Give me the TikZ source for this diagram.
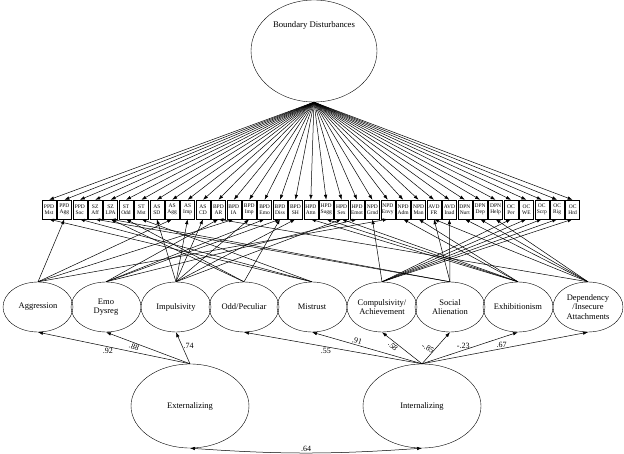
\documentclass[tikz,border=0pt]{standalone}
\usepackage{fontspec}
\setmainfont{Liberation Serif}
\usetikzlibrary{arrows.meta,shapes.geometric}

\begin{document}
\begin{tikzpicture}[x=1pt,y=-1pt,
    latent/.style={draw,ellipse,minimum width=70pt,minimum height=50pt,inner sep=0pt,align=center,font=\fontsize{8.5}{9.5}\selectfont},
    item/.style={draw,rectangle,minimum width=14pt,minimum height=19pt,inner sep=0pt,align=center,font=\fontsize{5.5}{6.5}\selectfont},
    load/.style={-{Latex[length=5pt,width=3.5pt]},line width=0.5pt},
    coef/.style={font=\fontsize{8}{9}\selectfont,inner sep=1pt}]

\useasboundingbox (0,0) rectangle (624,454);

% general factor
\node[latent,minimum width=126pt,minimum height=102pt] (bd) at (314,51) {};
\node[font=\fontsize{8.7}{10}\selectfont] (bdtext) at (314,25) {Boundary Disturbances};

% indicators
\foreach \a/\b [count=\i from 0] in {PPD/Mst,PPD/Agg,PPD/Soc,SZ/Aff,SZ/LPA,ST/Odd,ST/Mst,
    AS/SD,AS/Agg,AS/Imp,AS/CD,BPD/AR,BPD/IA,BPD/Imp,BPD/Emo,BPD/Diss,BPD/SH,
    HPD/Attn,HPD/Sugg,HPD/Sex,HPD/Emot,NPD/Grnd,NPD/Envy,NPD/Adm,NPD/Man,
    AVD/FR,AVD/Inad,DPN/Nurt,DPN/Dep,DPN/Help,OC/Per,OC/WE,OC/Scrp,OC/Rig,OC/Hrd}
    \node[item] (b\i) at ({49+15.4*\i},209.5) {\a\\\b};

\foreach \i in {0,...,34}
    \draw[load] (bd.south) -- (b\i.north);

% first-order factors
\node[latent] (agg) at (38,307) {Aggression};
\node[latent] (emo) at (106,307) {Emo\\Dysreg};
\node[latent] (imp) at (176,307) {Impulsivity};
\node[latent] (odd) at (244,307) {Odd/Peculiar};
\node[latent] (mis) at (312,307) {Mistrust};
\node[latent] (com) at (382,307) {Compulsivity/\\Achievement};
\node[latent] (soc) at (450,307) {Social\\Alienation};
\node[latent] (exh) at (518,307) {Exhibitionism};
\node[latent] (dep) at (588,307) {Dependency\\/Insecure\\Attachments};

\foreach \f/\l in {agg/{1,8,12,22},emo/{11,14,15,20},imp/{7,9,10,13,16,19},
    odd/{4,5,15},mis/{0,2,6},com/{21,30,31,32,33,34},soc/{3,4,25,26},
    exh/{17,18,19,23,24},dep/{11,25,27,28,29}}
    \foreach \i in \l
        \draw[load] (\f.north) -- (b\i.south);

% second-order factors
\node[latent,minimum width=118pt,minimum height=84pt] (ext) at (190,406) {Externalizing};
\node[latent,minimum width=118pt,minimum height=84pt] (int) at (422,406) {Internalizing};

\draw[load] (ext.north) -- node[coef,pos=0.54,below] {.92} (agg.south);
\draw[load] (ext.north) -- node[coef,pos=0.65,sloped,below] {.88} (emo.south);
\draw[load] (ext.north) -- node[coef,pos=0.55,right] {.74} (imp.south);
\draw[load] (int.north) -- node[coef,pos=0.54,below] {.55} (odd.south);
\draw[load] (int.north) -- node[coef,pos=0.6,sloped,above] {.91} (mis.south);
\draw[load] (int.north) -- node[coef,pos=0.55,xshift=-7pt] {\rotatebox{-45}{.58}} (com.south);
\draw[load] (int.north) -- node[coef,pos=0.5,xshift=-8pt] {\rotatebox{-30}{-.85}} (soc.south);
\draw[load] (int.north) -- node[coef,pos=0.43,above] {-.23} (exh.south);
\draw[load] (int.north) -- node[coef,pos=0.48,above] {.67} (dep.south);

\draw[{Latex[length=5pt,width=3.5pt]}-{Latex[length=5pt,width=3.5pt]},line width=0.5pt]
    (ext.south) to[bend right=4] node[coef,above] {.64} (int.south);
\end{tikzpicture}
\end{document}
